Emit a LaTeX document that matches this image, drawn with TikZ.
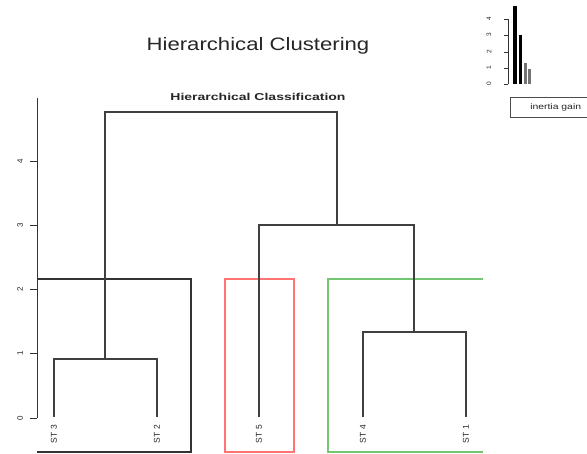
\documentclass[tikz,border=0pt]{standalone}
\usepackage{fontspec}
\setmainfont{Liberation Sans}
\begin{document}
\begin{tikzpicture}[x=1pt,y=-1pt,
  dend/.style={draw=black!75, line width=1.1pt},
  axisline/.style={draw=black!80, line width=0.9pt},
  ticklab/.style={rotate=90, font=\fontsize{8}{9}\selectfont, inner sep=0pt, text=black!85},
  leaflab/.style={rotate=90, anchor=east, font=\fontsize{8.5}{9}\selectfont, inner sep=0pt, text=black!85},
  clusterbox/.style={line width=1.2pt}]
\useasboundingbox (0,0) rectangle (587,454);
\fill[white] (0,0) rectangle (587,454);
% titles
\node[xscale=1.23, text=black!85] (title) at (258,46) {\fontsize{18}{20}\selectfont Hierarchical Clustering};
\node[xscale=1.4, text=black!85] (sub) at (258,97) {\fontsize{10}{11}\selectfont\bfseries Hierarchical Classification};
% y axis
\coordinate (ax0) at (37,418);
\coordinate (axtop) at (37,98);
\draw[axisline] (ax0) -- (axtop);
\foreach \v/\y in {0/418,1/353,2/289,3/225,4/161}{
  \draw[axisline] (30,\y) -- (37,\y);
  \node[ticklab] (t\v) at (20,\y) {\v};
}
% cluster boxes
\draw[clusterbox, draw=black!80] (37,279) -- (191,279) -- (191,452) -- (37,452);
\draw[clusterbox, draw=red!55] (225,279) rectangle (294,452);
\draw[clusterbox, draw=green!60!black!55] (483,279) -- (328,279) -- (328,452) -- (483,452);
% dendrogram coordinates
\coordinate (l3) at (54,417);
\coordinate (l2) at (157,417);
\coordinate (l5) at (259,417);
\coordinate (l4) at (363,417);
\coordinate (l1) at (466,417);
\coordinate (m32) at (105,359);
\coordinate (m41) at (414,332);
\coordinate (m541) at (337,225);
\coordinate (root) at (221,112);
\draw[dend] (l3) |- (m32) -| (l2);
\draw[dend] (l4) |- (m41) -| (l1);
\draw[dend] (l5) |- (m541) -| (m41);
\draw[dend] (m32) |- (root) -| (m541);
% leaf labels
\node[leaflab] (n3) at (54,425) {ST 3};
\node[leaflab] (n2) at (157,425) {ST 2};
\node[leaflab] (n5) at (259,425) {ST 5};
\node[leaflab] (n4) at (363,425) {ST 4};
\node[leaflab] (n1) at (466,425) {ST 1};
% inset bar chart
\coordinate (ib0) at (508,84);
\coordinate (ibtop) at (508,19);
\draw[axisline, line width=0.7pt] (ib0) -- (ibtop);
\foreach \v/\y in {0/84,1/68,2/52,3/35,4/19}{
  \draw[axisline, line width=0.7pt] (504,\y) -- (508,\y);
  \node[rotate=90, font=\fontsize{6.5}{7}\selectfont, inner sep=0pt, text=black!85] (it\v) at (489,\y) {\v};
}
\fill[black] (512.5,84) rectangle (516.5,6);
\fill[black] (519,84) rectangle (522,35);
\fill[black!55] (524,84) rectangle (527,63);
\fill[black!55] (527.5,84) rectangle (530.5,69);
% legend
\draw[black!70, line width=0.8pt] (590,97) -- (510,97) -- (510,117) -- (590,117);
\node[anchor=west, xscale=1.3, font=\fontsize{8}{9}\selectfont, inner sep=0pt, text=black!85] (leg) at (530,107) {inertia gain};
\end{tikzpicture}
\end{document}
